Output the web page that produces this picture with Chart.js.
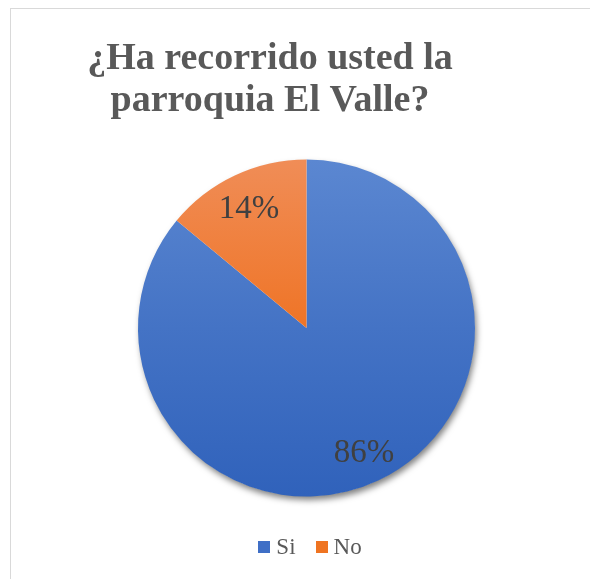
<!DOCTYPE html>
<html>
<head>
<meta charset="utf-8">
<script src="https://cdn.jsdelivr.net/npm/chart.js@4/dist/chart.umd.min.js"></script>
<style>
    body { margin: 0; background: #fff; }
    #frame { position: absolute; left: 10px; top: 8px; width: 620px; height: 620px;
             border-top: 1px solid #d9d9d9; border-left: 1px solid #d9d9d9; }
    #wrap { position: absolute; left: 0; top: 0; width: 590px; height: 579px; }
</style>
</head>
<body>
<div id="frame"></div>
<div id="wrap"><canvas id="pieChart"></canvas></div>
<script>
const titleLines = ["¿Ha recorrido usted la", "parroquia El Valle?"];
const categories = ["Si", "No"];
const values = [86, 14];
const labelsText = ["86%", "14%"];

const serif = '"Liberation Serif", "Times New Roman", Times, serif';
const legendColors = ['#3F6FC6', '#EF7421'];
const gradStops = [
    ['#5B87D1', '#4473C5', '#3062BB'],
    ['#F08D57', '#EF7426', '#E8691C']
];

function sliceFill(context) {
    const chart = context.chart;
    const a = chart.chartArea;
    const i = context.dataIndex;
    if (!a) return legendColors[i];
    const cy = (a.top + a.bottom) / 2;
    const r = Math.min(a.right - a.left, a.bottom - a.top) / 2;
    const g = chart.ctx.createLinearGradient(0, cy - r, 0, cy + r);
    g.addColorStop(0, gradStops[i][0]);
    g.addColorStop(0.5, gradStops[i][1]);
    g.addColorStop(1, gradStops[i][2]);
    return g;
}

// shadow under the pie, slice labels, title and legend
const piePlugin = {
    id: 'piePlugin',
    beforeDatasetsDraw(chart) {
        const arc = chart.getDatasetMeta(0).data[0];
        if (!arc) return;
        const ctx = chart.ctx;
        ctx.save();
        ctx.shadowColor = 'rgba(0,0,0,0.5)';
        ctx.shadowBlur = 6;
        ctx.shadowOffsetX = 2;
        ctx.shadowOffsetY = 4;
        ctx.fillStyle = '#ffffff';
        ctx.beginPath();
        ctx.arc(arc.x, arc.y, arc.outerRadius - 0.5, 0, Math.PI * 2);
        ctx.fill();
        ctx.restore();
    },
    afterDatasetsDraw(chart) {
        const ctx = chart.ctx;
        ctx.save();
        ctx.font = '33px ' + serif;
        ctx.fillStyle = '#404040';
        ctx.textAlign = 'center';
        ctx.textBaseline = 'middle';
        chart.getDatasetMeta(0).data.forEach((arc, i) => {
            const mid = (arc.startAngle + arc.endAngle) / 2;
            const rr = arc.outerRadius * 0.8;
            ctx.fillText(labelsText[i], arc.x + Math.cos(mid) * rr, arc.y + Math.sin(mid) * rr + 3);
        });

        // title
        ctx.font = 'bold 38px ' + serif;
        ctx.fillStyle = '#595959';
        ctx.textBaseline = 'alphabetic';
        ctx.fillText(titleLines[0], 270, 69);
        ctx.fillText(titleLines[1], 270, 111);

        // legend
        ctx.font = '23px ' + serif;
        ctx.textAlign = 'left';
        ctx.textBaseline = 'middle';
        const box = 12, gap = 6, spacing = 20, ly = 547;
        const widths = categories.map(c => ctx.measureText(c).width);
        let total = 0;
        widths.forEach((w, i) => { total += box + gap + w + (i ? spacing : 0); });
        let x = 310 - total / 2;
        categories.forEach((c, i) => {
            ctx.fillStyle = legendColors[i];
            ctx.fillRect(Math.round(x), ly - 6, box, box);
            ctx.fillStyle = '#595959';
            ctx.fillText(c, x + box + gap, ly + 1);
            x += box + gap + widths[i] + spacing;
        });
        ctx.restore();
    }
};

function drawChart() {
    const pieChart = document.getElementById('pieChart').getContext('2d');

    new Chart(pieChart, {
        type: 'pie',
        data: {
            labels: categories,
            datasets: [{
                data: values,
                backgroundColor: sliceFill,
                borderWidth: 0
            }]
        },
        options: {
            responsive: true,
            maintainAspectRatio: false,
            animation: false,
            layout: {
                padding: { top: 159.5, bottom: 82.5, left: 138, right: 115 }
            },
            plugins: {
                title: { display: false },
                tooltip: { enabled: false },
                legend: { display: false }
            }
        },
        plugins: [piePlugin]
    });
}

Promise.all([
    document.fonts.load('bold 38px "Liberation Serif"'),
    document.fonts.load('33px "Liberation Serif"')
]).then(drawChart, drawChart);
</script>
</body>
</html>
